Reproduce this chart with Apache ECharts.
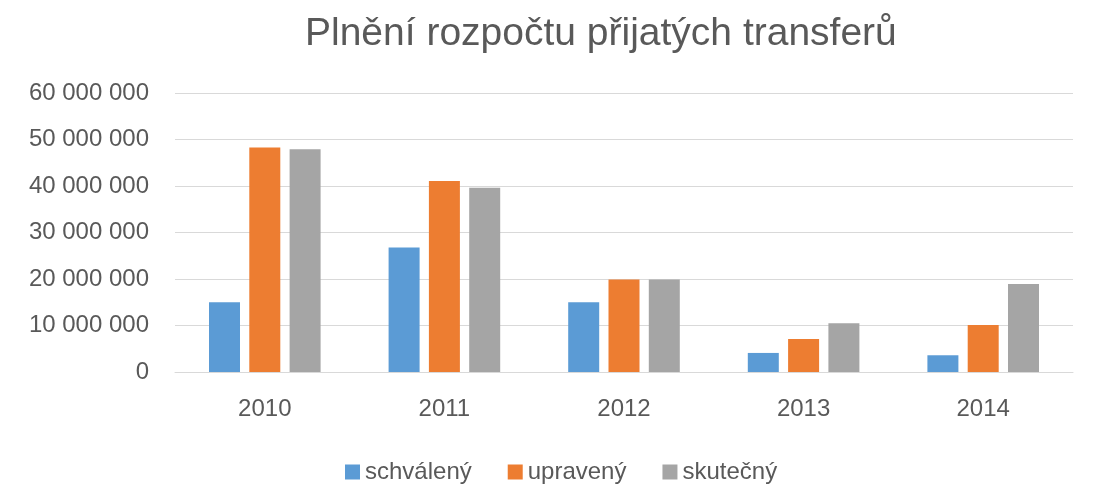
<!DOCTYPE html>
<html><head><meta charset="utf-8">
<script src="https://cdn.jsdelivr.net/npm/echarts@6/dist/echarts.min.js"></script>
<style>html,body{margin:0;padding:0;background:#fff}#c{width:1094px;height:504px}</style>
</head><body><div id="c"></div>
<script>
const categories = ['2010','2011','2012','2013','2014'];
const schvaleny = [15000000, 26800000, 15000000, 4100000, 3600000];
const upraveny = [48300000, 41100000, 19900000, 7100000, 10100000];
const skutecny = [47900000, 39600000, 19900000, 10500000, 18900000];
const seriesNames = ['schválený','upravený','skutečný'];
const colors = ['#5b9bd5','#ed7d31','#a5a5a5'];
const FONT = 'Liberation Sans, Arial, sans-serif';
const chart = echarts.init(document.getElementById('c'));
const fmt = v => String(v).replace(/\B(?=(\d{3})+(?!\d))/g, ' ');
chart.setOption({
  animation:false,
  color: colors,
  title:{text:'Plnění rozpočtu přijatých transferů',left:300,top:10,
    textStyle:{fontFamily:FONT,fontSize:39,fontWeight:'normal',color:'#595959'}},
  legend:{top:455,left:340,itemWidth:15,itemHeight:15,itemGap:36,icon:'rect',
    textStyle:{fontFamily:FONT,fontSize:24,color:'#595959'}},
  grid:{left:175,right:21,top:93,bottom:132},
  xAxis:{type:'category',data:categories,
    axisLine:{lineStyle:{color:'#d9d9d9'}},axisTick:{show:false},
    axisLabel:{fontFamily:FONT,fontSize:24,color:'#595959',margin:25}},
  yAxis:{type:'value',min:0,max:60000000,interval:10000000,
    axisLine:{show:false},axisTick:{show:false},
    splitLine:{lineStyle:{color:'#d9d9d9'}},
    axisLabel:{fontFamily:FONT,fontSize:24,color:'#595959',margin:26,formatter:fmt}},
  series:[
    {name:seriesNames[0],type:'bar',data:schvaleny,barWidth:31,barGap:'30%'},
    {name:seriesNames[1],type:'bar',data:upraveny,barWidth:31,barGap:'30%'},
    {name:seriesNames[2],type:'bar',data:skutecny,barWidth:31,barGap:'30%'}
  ]
});
</script></body></html>
